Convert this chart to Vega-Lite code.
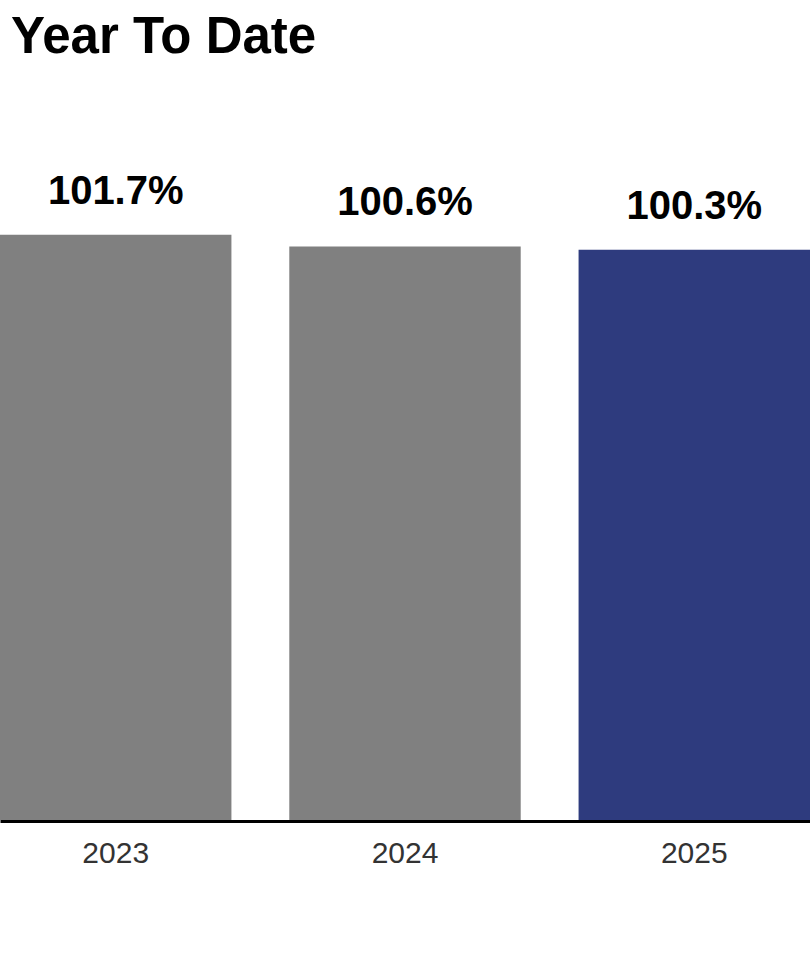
{
  "$schema": "https://vega.github.io/schema/vega-lite/v6.json",
  "autosize": "none",
  "padding": {"top": 100, "left": 0, "right": 0, "bottom": 140},
  "width": 810,
  "height": 720,
  "background": "white",
  "title": {
    "text": "Year To Date",
    "anchor": "start",
    "frame": "group",
    "font": "Liberation Sans",
    "fontSize": 51,
    "fontWeight": "bold",
    "color": "#000000",
    "baseline": "alphabetic",
    "offset": 43,
    "dx": 11,
    "dy": 47
  },
  "data": {
    "values": [
      {"year": "2023", "value": 101.7, "label": "101.7%", "current": "no"},
      {"year": "2024", "value": 100.6, "label": "100.6%", "current": "no"},
      {"year": "2025", "value": 100.3, "label": "100.3%", "current": "yes"}
    ]
  },
  "encoding": {
    "x": {
      "field": "year",
      "type": "nominal",
      "sort": null,
      "scale": {"paddingInner": 0.2, "paddingOuter": 0},
      "axis": {
        "title": null,
        "labelAngle": 0,
        "ticks": false,
        "tickSize": 0,
        "domain": true,
        "domainColor": "#000000",
        "domainWidth": 3,
        "offset": 1,
        "labelFont": "Liberation Sans",
        "labelFontSize": 30,
        "labelColor": "#333333",
        "labelBaseline": "alphabetic",
        "labelPadding": 41
      }
    },
    "y": {
      "field": "value",
      "type": "quantitative",
      "scale": {"domain": [47, 114.29], "zero": false, "nice": false},
      "axis": null
    }
  },
  "layer": [
    {
      "mark": {"type": "bar", "clip": true},
      "encoding": {
        "y2": {"datum": 47},
        "color": {
          "field": "current",
          "type": "nominal",
          "scale": {"domain": ["no", "yes"], "range": ["#808080", "#2E3B7E"]},
          "legend": null
        }
      }
    },
    {
      "mark": {
        "type": "text",
        "font": "Liberation Sans",
        "fontSize": 40,
        "fontWeight": "bold",
        "color": "#000000",
        "baseline": "alphabetic",
        "align": "center",
        "dy": -31
      },
      "encoding": {
        "text": {"field": "label"}
      }
    }
  ],
  "config": {
    "view": {"stroke": null},
    "axis": {"grid": false}
  }
}
